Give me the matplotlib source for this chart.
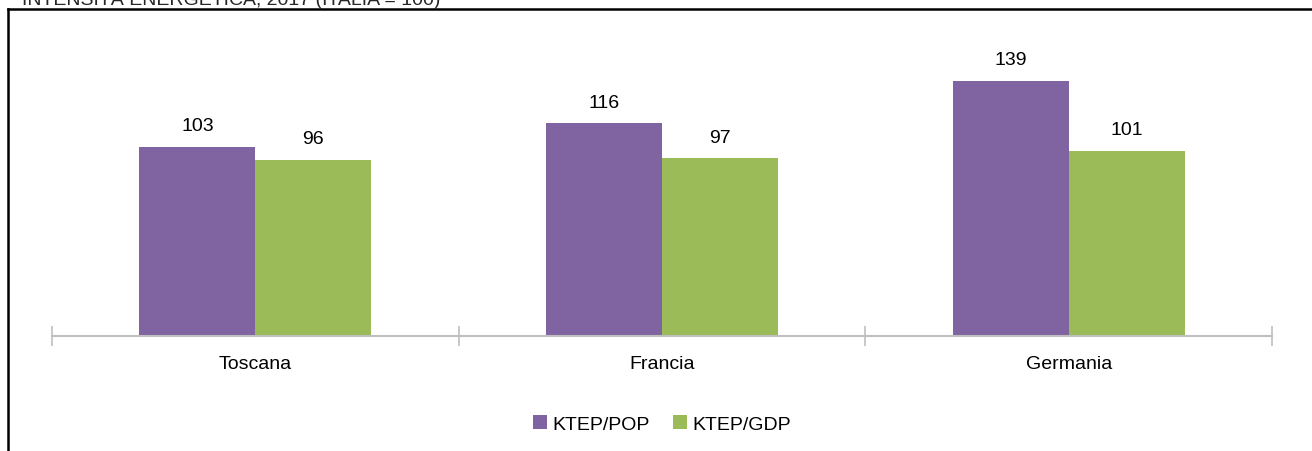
import matplotlib.pyplot as plt
from matplotlib.lines import Line2D
import numpy as np

plt.rcParams['font.family'] = ['Liberation Sans', 'DejaVu Sans']

# data
regions = ["Toscana", "Francia", "Germania"]
ktep_pop = [103, 116, 139]
ktep_gdp = [96, 97, 101]
series_names = ["KTEP/POP", "KTEP/GDP"]
title = "INTENSITÀ ENERGETICA, 2017 (ITALIA = 100)"

purple = "#8064A2"
green = "#9BBB59"
grey = "#BFBFBF"
fs = 14

W, H = 1312, 452
fig = plt.figure(figsize=(W / 100, H / 100), dpi=100)
ax = fig.add_axes([52 / W, 1 - 337 / H, (1272 - 52) / W, (337 - 30) / H])

x = np.arange(len(regions))
bw = 0.285
b1 = ax.bar(x - bw / 2, ktep_pop, bw, color=purple, label=series_names[0])
b2 = ax.bar(x + bw / 2, ktep_gdp, bw, color=green, label=series_names[1])

for bars, vals in ((b1, ktep_pop), (b2, ktep_gdp)):
    for b, v in zip(bars, vals):
        ax.annotate(str(v), (b.get_x() + b.get_width() / 2, v),
                    xytext=(0, 9), textcoords="offset points",
                    ha="center", va="bottom", fontsize=fs)

ax.set_xlim(-0.5, len(regions) - 0.5)
ax.set_ylim(0, 167.3)
for s in ("top", "right", "left"):
    ax.spines[s].set_visible(False)
ax.spines["bottom"].set_color(grey)
ax.spines["bottom"].set_linewidth(1.5)
ax.set_yticks([])
ax.set_xticks(x)
ax.set_xticklabels(regions, fontsize=fs)
ax.tick_params(axis="x", which="major", length=0, pad=14)
ax.set_xticks(np.arange(len(regions) + 1) - 0.5, minor=True)
ax.tick_params(axis="x", which="minor", direction="inout", length=14,
               width=1.2, color=grey)

ax.legend(loc="upper center", bbox_to_anchor=(0.5, -0.2), ncol=2,
          frameon=False, fontsize=fs, handlelength=0.7, handleheight=0.7,
          handletextpad=0.3, columnspacing=1.2)

# frame and cut title
fig.add_artist(Line2D([8 / W, 8 / W], [0, 1 - 10 / H], color="black",
                      linewidth=1.8, transform=fig.transFigure))
fig.add_artist(Line2D([8 / W, 1], [1 - 10 / H, 1 - 10 / H], color="black",
                      linewidth=1.8, transform=fig.transFigure))
fig.text(22 / W, 1 - 5 / H, title, fontsize=fs, color="#262626",
         va="baseline", ha="left")

fig.savefig("out.png", dpi=100)
